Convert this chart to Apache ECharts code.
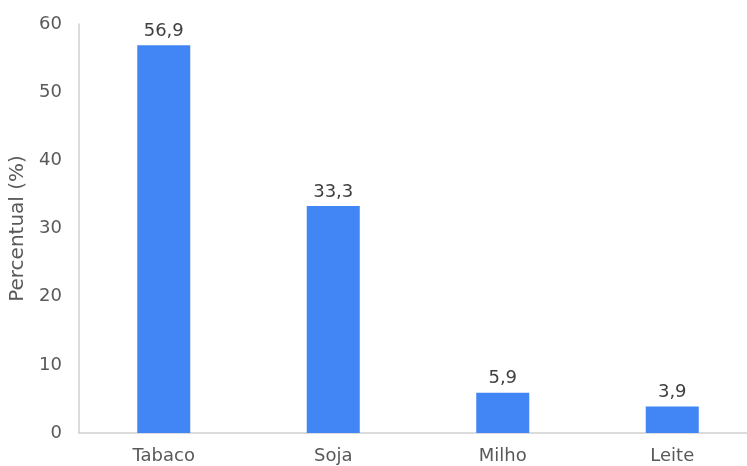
<!DOCTYPE html>
<html><head><meta charset="utf-8">
<script src="https://cdn.jsdelivr.net/npm/echarts@6/dist/echarts.min.js"></script>
<style>html,body{margin:0;padding:0;background:#fff}#c{width:747px;height:466px}</style>
</head><body><div id="c"></div>
<script>
var categories = ['Tabaco', 'Soja', 'Milho', 'Leite'];
var values = [56.9, 33.3, 5.9, 3.9];
var yTicks = [0, 10, 20, 30, 40, 50, 60];
var chart = echarts.init(document.getElementById('c'));
var font = 'DejaVu Sans, sans-serif';
chart.setOption({
  animation: false,
  grid: {left: 79, top: 24, width: 678, height: 409, containLabel: false, outerBoundsMode: 'none'},
  xAxis: {
    type: 'category', data: categories,
    axisLine: {lineStyle: {color: '#d0d0d0', width: 1.5}},
    axisTick: {show: false},
    axisLabel: {color: '#595959', fontSize: 18, fontFamily: font, margin: 14}
  },
  yAxis: {
    type: 'value', min: yTicks[0], max: yTicks[yTicks.length - 1], interval: 10,
    name: 'Percentual (%)', nameLocation: 'middle', nameGap: 49,
    nameTextStyle: {color: '#595959', fontSize: 20, fontFamily: font},
    axisLine: {show: true, lineStyle: {color: '#d0d0d0', width: 1.5}},
    axisTick: {show: false},
    splitLine: {show: false},
    axisLabel: {color: '#595959', fontSize: 18, fontFamily: font, margin: 17}
  },
  series: [{
    type: 'bar', data: values, barWidth: 53,
    itemStyle: {color: '#4285f4'},
    label: {show: true, position: 'top', distance: 5, color: '#404040', fontSize: 18, fontFamily: font,
      formatter: function (p) { return String(p.value).replace('.', ','); }}
  }]
});
</script></body></html>
